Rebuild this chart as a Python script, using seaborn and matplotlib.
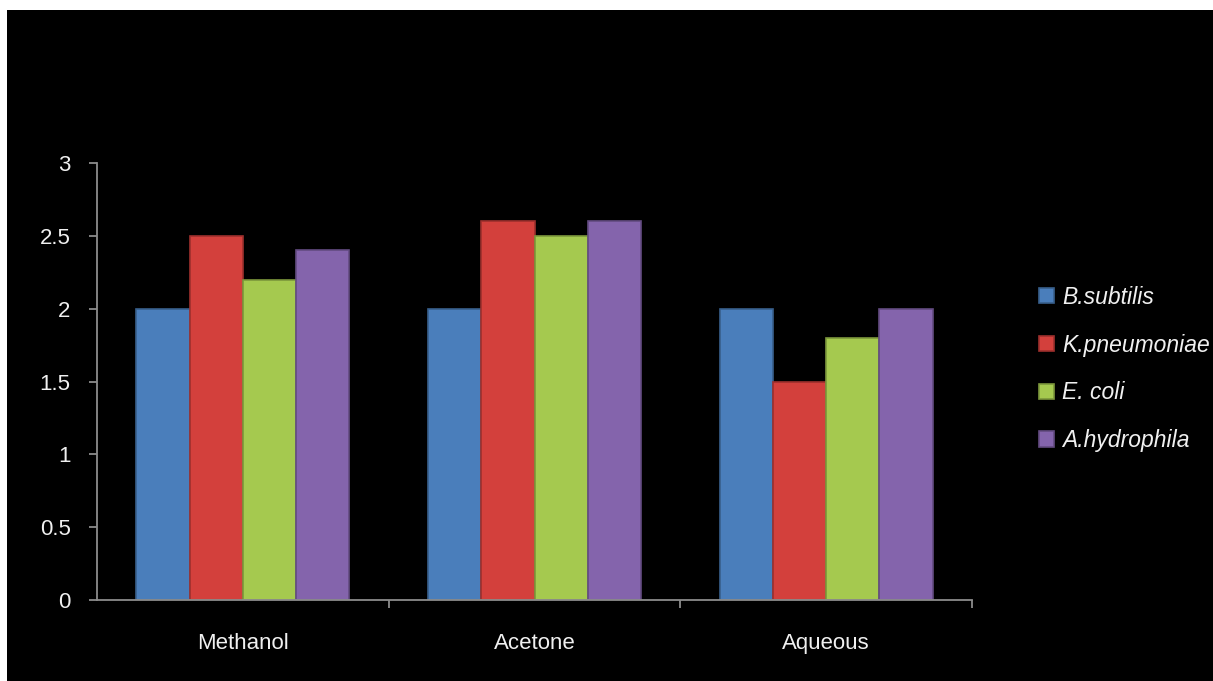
import pandas as pd
import numpy as np
import matplotlib.pyplot as plt
import matplotlib.patches as mpatches
import seaborn as sns

extracts = ['Methanol', 'Acetone', 'Aqueous']
organisms = ['B.subtilis', 'K.pneumoniae', 'E. coli', 'A.hydrophila']
b_subtilis = [2.0, 2.0, 2.0]
k_pneumoniae = [2.5, 2.6, 1.5]
e_coli = [2.2, 2.5, 1.8]
a_hydrophila = [2.4, 2.6, 2.0]
colors = ['#4a7ebb', '#d3403c', '#a5c94f', '#8464ac']

df = pd.DataFrame({
    'extract': extracts * 4,
    'organism': [o for o in organisms for _ in extracts],
    'value': b_subtilis + k_pneumoniae + e_coli + a_hydrophila,
})

sns.set_style('dark')
plt.rcParams['font.family'] = ['Liberation Sans', 'DejaVu Sans']

fig = plt.figure(figsize=(12.13, 6.81), dpi=100, facecolor='white')
# black panel with a thin white margin on top and left
panel = mpatches.Rectangle((7 / 1213, 0), 1, 1 - 10 / 681, transform=fig.transFigure,
                           facecolor='black', edgecolor='none', zorder=-10)
fig.add_artist(panel)
ax = fig.add_axes([97 / 1213, 81 / 681, 875 / 1213, 437 / 681])
ax.set_zorder(1)
ax.set_facecolor('black')

sns.barplot(data=df, x='extract', y='value', hue='organism', palette=colors,
            width=0.73, saturation=1, ax=ax, legend=True)

for bar in ax.patches:
    fc = bar.get_facecolor()
    bar.set_edgecolor(tuple(c * 0.75 for c in fc[:3]))
    bar.set_linewidth(1.2)

ax.set_ylim(0, 3)
ax.set_xlim(-0.5, 2.5)
ax.set_yticks(np.arange(0, 3.01, 0.5))
ax.set_yticklabels(['0', '0.5', '1', '1.5', '2', '2.5', '3'])
ax.set_xlabel('')
ax.set_ylabel('')
ax.grid(False)

for side in ['top', 'right']:
    ax.spines[side].set_visible(False)
for side in ['left', 'bottom']:
    ax.spines[side].set_visible(True)
    ax.spines[side].set_color('#8c8c8c')
    ax.spines[side].set_linewidth(1.3)

ax.tick_params(axis='y', colors='#8c8c8c', labelcolor='#f0f0f0', labelsize=16,
               length=6, width=1.3, direction='out', left=True, pad=13)
ax.tick_params(axis='x', which='major', length=0, labelcolor='#f0f0f0',
               labelsize=16, pad=24)
ax.set_xticks([0.5, 1.5, 2.5], minor=True)
ax.tick_params(axis='x', which='minor', colors='#8c8c8c', length=6, width=1.3,
               direction='out', bottom=True)

handles, labels = ax.get_legend_handles_labels()
ax.legend(handles, labels, loc='center left', bbox_to_anchor=(1030 / 1213, 1 - 369 / 681),
          bbox_transform=fig.transFigure, frameon=False, labelcolor='#f0f0f0',
          prop={'style': 'italic', 'size': 16.5}, handlelength=0.65, handleheight=0.65,
          handletextpad=0.35, labelspacing=1.08, borderaxespad=0)

fig.savefig('out.png', dpi=100, facecolor=fig.get_facecolor())
